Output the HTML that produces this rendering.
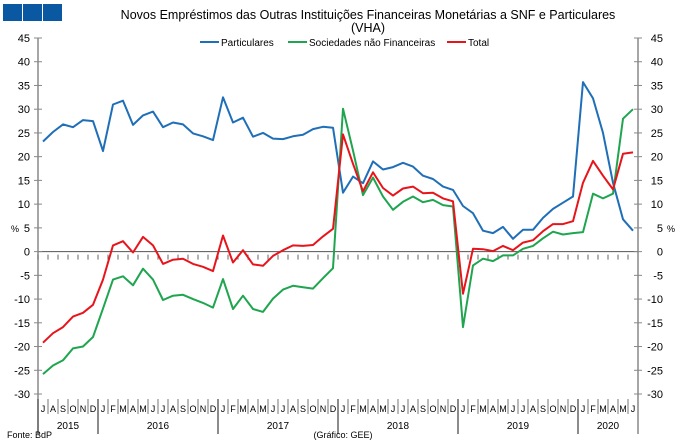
<!DOCTYPE html>
<html><head><meta charset="utf-8"><style>
body{margin:0;background:#fff;}
svg{display:block;font-family:"Liberation Sans",sans-serif;}
</style></head><body>
<svg width="680" height="447" viewBox="0 0 680 447">
<rect x="3" y="4" width="19" height="17" fill="#0b58a2"/>
<rect x="23" y="4" width="19" height="17" fill="#0b58a2"/>
<rect x="43" y="4" width="19" height="17" fill="#0b58a2"/>
<text x="368" y="19" text-anchor="middle" font-size="12.5">Novos Empréstimos das Outras Instituições Financeiras Monetárias a SNF e Particulares</text>
<text x="368" y="32" text-anchor="middle" font-size="12.5">(VHA)</text>
<g font-size="10">
<g><line x1="200" y1="42" x2="219" y2="42" stroke="#1f6fb8" stroke-width="2"/><text x="221" y="46">Particulares</text></g>
<g><line x1="288" y1="42" x2="307" y2="42" stroke="#1fa54f" stroke-width="2"/><text x="309" y="46">Sociedades não Financeiras</text></g>
<g><line x1="447" y1="42" x2="466" y2="42" stroke="#e8141b" stroke-width="2"/><text x="468" y="46">Total</text></g>
</g>
<g id="axes"></g>
<g id="series"></g>
<text x="7" y="438" font-size="9">Fonte: BdP</text>
<text x="343" y="438" text-anchor="middle" font-size="9">(Gráfico: GEE)</text>
</svg>
<script>
const months = ["J","A","S","O","N","D","J","F","M","A","M","J","J","A","S","O","N","D","J","F","M","A","M","J","J","A","S","O","N","D","J","F","M","A","M","J","J","A","S","O","N","D","J","F","M","A","M","J","J","A","S","O","N","D","J","F","M","A","M","J"];
const years = ["2015","2016","2017","2018","2019","2020"];
const yearStarts = [0,6,18,30,42,54];
const yTicks = [45,40,35,30,25,20,15,10,5,0,-5,-10,-15,-20,-25,-30];
const particulares = [23.2,25.2,26.8,26.2,27.7,27.5,21.2,31,31.8,26.7,28.7,29.5,26.2,27.2,26.8,24.9,24.3,23.5,32.5,27.2,28.2,24.2,25,23.8,23.7,24.3,24.6,25.8,26.3,26.1,12.4,15.8,14.4,19,17.3,17.8,18.7,17.9,16,15.3,13.7,13,9.6,8.1,4.4,3.9,5.2,2.7,4.6,4.6,7.1,9,10.3,11.6,35.7,32.3,25,14.5,6.8,4.4];
const sociedades = [-25.8,-24,-22.9,-20.4,-20,-18,-12,-5.9,-5.2,-7.1,-3.6,-5.9,-10.2,-9.3,-9.1,-10,-10.8,-11.8,-5.8,-12.1,-9.3,-12.1,-12.7,-9.9,-8,-7.2,-7.5,-7.8,-5.6,-3.5,30.1,21.3,11.9,15.6,11.6,8.8,10.5,11.6,10.4,10.9,9.8,9.5,-15.9,-2.9,-1.5,-2,-0.8,-0.8,0.6,1.2,2.8,4.2,3.6,3.9,4.1,12.2,11.2,12.2,28,30];
const total = [-19.2,-17.2,-15.9,-13.7,-12.9,-11.2,-5.9,1.3,2.2,-0.2,3.1,1.3,-2.6,-1.7,-1.5,-2.6,-3.2,-4.1,3.4,-2.3,0.3,-2.7,-3,-0.9,0.3,1.3,1.2,1.4,3.2,4.8,24.7,18.5,12.7,16.7,13.4,11.8,13.3,13.7,12.3,12.4,11.2,10.6,-8.9,0.6,0.5,0.1,1.2,0.3,1.9,2.4,4.3,5.8,5.8,6.4,14.5,19.1,16,13.1,20.6,20.9];

const NS="http://www.w3.org/2000/svg";
const L=38,R=638,T=38,B=394,yMax=45,yMin=-30;
const xs=i=>L+(i+0.5)*(R-L)/months.length;
const xb=i=>L+i*(R-L)/months.length;
const ys=v=>T+(yMax-v)*(B-T)/(yMax-yMin);
function mk(tag,attrs,parent){const e=document.createElementNS(NS,tag);for(const k in attrs)e.setAttribute(k,attrs[k]);parent.appendChild(e);return e;}
const ax=document.getElementById('axes');
let e;
e=mk('line',{x1:L,y1:T,x2:L,y2:B+40,stroke:'#888','stroke-width':1.5},ax);


e=mk('line',{x1:R,y1:T,x2:R,y2:B+40,stroke:'#888','stroke-width':1.5},ax);


e=mk('line',{x1:L,y1:ys(0),x2:R,y2:ys(0),stroke:'#555','stroke-width':1},ax);


yTicks.forEach(v=>{
  const y=ys(v);
  mk('line',{x1:L-4,y1:y,x2:L+4,y2:y,stroke:'#888'},ax);
  mk('line',{x1:R-4,y1:y,x2:R+4,y2:y,stroke:'#888'},ax);
  e=mk('text',{x:L-8,y:y+4,'text-anchor':'end','font-size':11},ax);
  e.textContent=v;
  
  
  e=mk('text',{x:R+25,y:y+4,'text-anchor':'end','font-size':11},ax);
  e.textContent=v;
  
  
});
e=mk('text',{x:11,y:232,'font-size':9},ax);e.textContent='%';


e=mk('text',{x:667,y:232,'font-size':9},ax);e.textContent='%';


months.forEach((m,i)=>{
  mk('line',{x1:xb(i),y1:ys(0)+3,x2:xb(i),y2:ys(0)+8,stroke:'#666'},ax);
  mk('line',{x1:xb(i),y1:B+5,x2:xb(i),y2:B+20,stroke:'#777'},ax);
  e=mk('text',{x:xs(i),y:B+18,'text-anchor':'middle','font-size':9},ax);
  e.textContent=m;
  
  
});
years.forEach((yr,k)=>{
  const s=yearStarts[k],en=k+1<yearStarts.length?yearStarts[k+1]:months.length;
  mk('line',{x1:xb(s),y1:B+5,x2:xb(s),y2:B+40,stroke:'#666','stroke-width':1.5},ax);
  e=mk('text',{x:(xb(s)+xb(en))/2,y:B+35,'text-anchor':'middle','font-size':10},ax);
  e.textContent=yr;
  
  
});
const sg=document.getElementById('series');
[[particulares,'#1f6fb8','line-particulares'],[sociedades,'#1fa54f','line-sociedades-nao-financeiras'],[total,'#e8141b','line-total']].forEach(([d,c,n])=>{
  const p=d.map((v,i)=>(i?'L':'M')+xs(i).toFixed(1)+','+ys(v).toFixed(1)).join('');
  const el=mk('path',{d:p,fill:'none',stroke:c,'stroke-width':2,'stroke-linejoin':'round'},sg);
  
  
});
</script>
</body></html>
